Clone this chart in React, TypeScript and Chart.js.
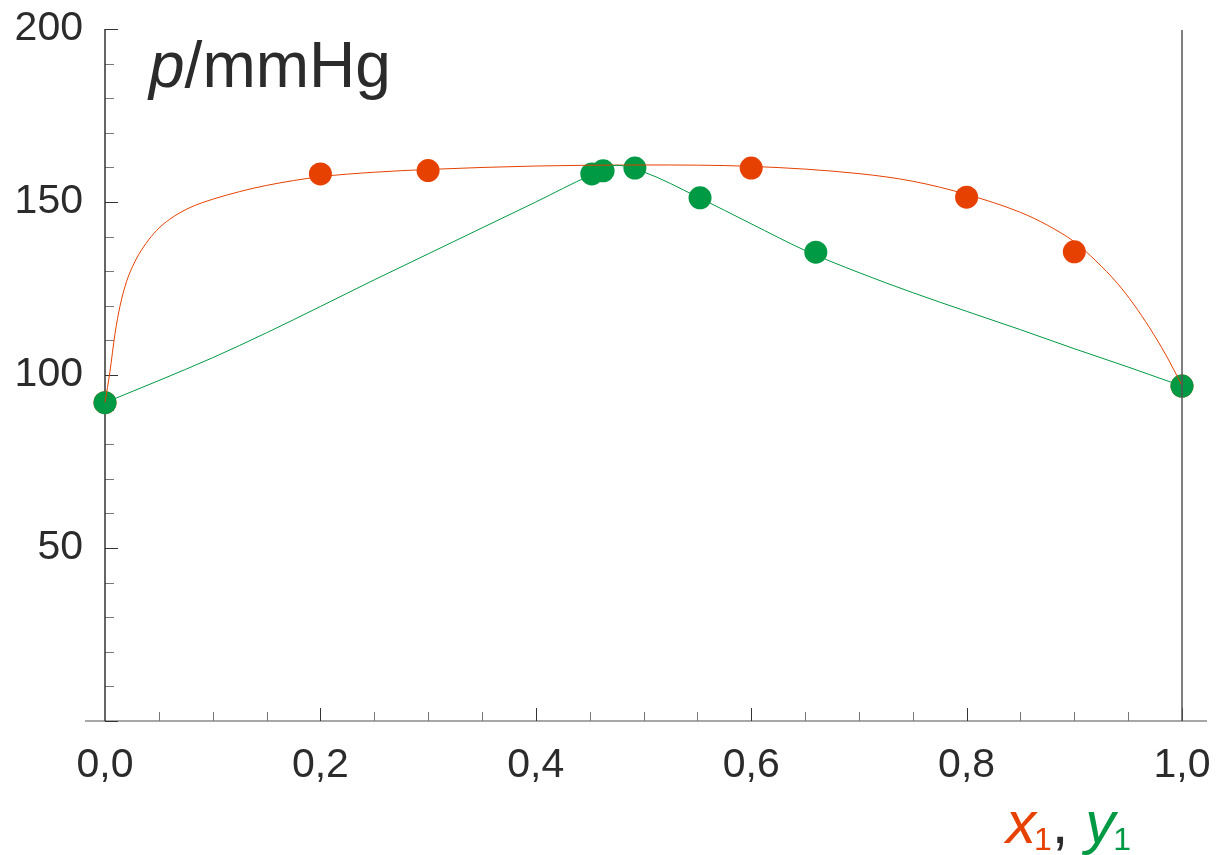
import React, { useEffect, useRef } from "react";
import { Chart, registerables } from "chart.js";

Chart.register(...registerables);

// Liquid composition curve (x1)
const liquidX = [0, 0.0046, 0.0093, 0.014, 0.02, 0.029, 0.038, 0.048, 0.06, 0.079, 0.1, 0.125, 0.15, 0.2, 0.25, 0.3, 0.4, 0.5, 0.6, 0.7, 0.75, 0.8, 0.85, 0.875, 0.9, 0.92, 0.94, 0.955, 0.97, 0.985, 1.0];
const liquidP = [92, 101, 112, 120, 127, 133.5, 138, 141.8, 145, 148.4, 150.8, 153, 154.8, 157.3, 158.6, 159.4, 160.4, 160.7, 160.3, 158.2, 156, 152.2, 147, 143.3, 138.5, 133, 126.5, 120.5, 113.6, 105.8, 97];

// Vapour composition curve (y1)
const vaporX = [0, 0.05, 0.1, 0.15, 0.2, 0.25, 0.3, 0.35, 0.4, 0.45, 0.475, 0.5, 0.55, 0.6, 0.65, 0.7, 0.75, 0.8, 0.85, 0.9, 0.95, 1.0];
const vaporP = [92, 98.4, 105, 112.2, 119.8, 127.5, 135, 142.5, 150, 157.6, 160.6, 158.7, 151.5, 143.7, 136, 129.6, 123.8, 118.4, 113.1, 107.6, 102.3, 96.8];

// Measured points
const liqPtsX = [0, 0.2, 0.3, 0.6, 0.8, 0.9, 1.0];
const liqPtsP = [92, 158.1, 159.1, 159.8, 151.4, 135.6, 96.8];
const vapPtsX = [0, 0.452, 0.4625, 0.492, 0.5525, 0.66, 1.0];
const vapPtsP = [92, 158.1, 159, 159.8, 151.2, 135.5, 96.8];

const xTicks = [0, 0.2, 0.4, 0.6, 0.8, 1.0];
const yTicks = [50, 100, 150, 200];

const RED = "#E64100";
const GREEN = "#009944";
const TEXT = "#2b2b2b";
const FONT = "'Liberation Sans', Arial, sans-serif";

const toPts = (xs: number[], ys: number[]) => xs.map((x, i) => ({ x, y: ys[i] }));

const zeroPad = (s: any) => {
  s.paddingTop = 0;
  s.paddingBottom = 0;
  s.paddingLeft = 0;
  s.paddingRight = 0;
};

const axesPlugin = {
  id: "customAxes",
  beforeDatasetsDraw(chart: any) {
    const { ctx, chartArea, scales } = chart;
    const xs = scales.x;
    const ys = scales.y;
    const x0 = xs.getPixelForValue(0);
    const y0 = ys.getPixelForValue(0);
    ctx.save();
    // x axis line
    ctx.strokeStyle = "#8a8a8a";
    ctx.lineWidth = 1.5;
    ctx.beginPath();
    ctx.moveTo(x0 - 20, y0);
    ctx.lineTo(chartArea.right + 25, y0);
    ctx.stroke();
    // x ticks
    for (let i = 1; i <= 20; i++) {
      const v = i * 0.05;
      const px = Math.round(xs.getPixelForValue(v)) + 0.5;
      const major = i % 4 === 0;
      ctx.strokeStyle = major ? "#333" : "#777";
      ctx.lineWidth = 1;
      ctx.beginPath();
      ctx.moveTo(px, y0);
      ctx.lineTo(px, y0 - (major ? 13 : 9));
      ctx.stroke();
    }
    // y ticks
    for (let i = 0; i <= 20; i++) {
      const v = i * 10;
      const py = Math.round(ys.getPixelForValue(v)) + 0.5;
      const major = i % 5 === 0;
      ctx.strokeStyle = major ? "#333" : "#777";
      ctx.lineWidth = 1;
      ctx.beginPath();
      ctx.moveTo(x0, py);
      ctx.lineTo(x0 + (major ? 13 : 9), py);
      ctx.stroke();
    }
    // y axis line
    ctx.strokeStyle = "#333";
    ctx.lineWidth = 1.5;
    ctx.beginPath();
    ctx.moveTo(x0, y0);
    ctx.lineTo(x0, ys.getPixelForValue(200));
    ctx.stroke();
    ctx.restore();
  },
  afterDatasetsDraw(chart: any) {
    const { ctx, scales } = chart;
    const xs = scales.x;
    const ys = scales.y;
    const x1 = xs.getPixelForValue(1);
    ctx.save();
    ctx.strokeStyle = "#555";
    ctx.lineWidth = 1.5;
    ctx.beginPath();
    ctx.moveTo(x1, ys.getPixelForValue(200) + 1);
    ctx.lineTo(x1, ys.getPixelForValue(0));
    ctx.stroke();
    ctx.restore();
  },
  afterDraw(chart: any) {
    const { ctx } = chart;
    ctx.save();
    ctx.textBaseline = "alphabetic";
    // title p/mmHg
    ctx.fillStyle = TEXT;
    ctx.font = `italic 64px ${FONT}`;
    let x = 149;
    const by = 87;
    ctx.fillText("p", x, by);
    x += ctx.measureText("p").width;
    ctx.font = `64px ${FONT}`;
    ctx.fillText("/mmHg", x, by);

    // x1, y1
    const by2 = 843;
    let lx = 1006;
    ctx.font = `italic 60px ${FONT}`;
    ctx.fillStyle = RED;
    ctx.fillText("x", lx, by2);
    lx += ctx.measureText("x").width;
    ctx.font = `32px ${FONT}`;
    ctx.fillText("1", lx - 2, by2 + 7);
    lx += ctx.measureText("1").width - 2;
    ctx.fillStyle = TEXT;
    ctx.font = `60px ${FONT}`;
    ctx.fillText(", ", lx, by2);
    lx += ctx.measureText(", ").width;
    ctx.fillStyle = GREEN;
    ctx.font = `italic 60px ${FONT}`;
    ctx.fillText("y", lx, by2);
    lx += ctx.measureText("y").width;
    ctx.font = `32px ${FONT}`;
    ctx.fillText("1", lx - 2, by2 + 7);
    ctx.restore();
  },
};

export default function App() {
  const ref = useRef<HTMLCanvasElement | null>(null);
  useEffect(() => {
    if (!ref.current) return;
    const chart = new Chart(ref.current, {
      type: "scatter",
      data: {
        datasets: [
          {
            label: "x1 points",
            data: toPts(liqPtsX, liqPtsP),
            showLine: false,
            pointRadius: 11.5,
            pointBackgroundColor: RED,
            pointBorderWidth: 0,
            clip: false,
            order: 4,
          },
          {
            label: "y1 points",
            data: toPts(vapPtsX, vapPtsP),
            showLine: false,
            pointRadius: 11.5,
            pointBackgroundColor: GREEN,
            pointBorderWidth: 0,
            clip: false,
            order: 3,
          },
          {
            label: "x1",
            data: toPts(liquidX, liquidP),
            showLine: true,
            pointRadius: 0,
            borderColor: RED,
            borderWidth: 1,
            cubicInterpolationMode: "monotone",
            clip: false,
            order: 2,
          },
          {
            label: "y1",
            data: toPts(vaporX, vaporP),
            showLine: true,
            pointRadius: 0,
            borderColor: GREEN,
            borderWidth: 1,
            cubicInterpolationMode: "monotone",
            clip: false,
            order: 1,
          },
        ],
      },
      options: {
        animation: false,
        responsive: false,
        layout: { padding: { left: 0, right: 40, top: 29, bottom: 0 } },
        plugins: { legend: { display: false }, tooltip: { enabled: false } },
        scales: {
          x: {
            type: "linear",
            min: 0,
            max: 1,
            position: "bottom",
            grid: { display: false, drawTicks: false },
            border: { display: false },
            afterBuildTicks: (s: any) => {
              s.ticks = xTicks.map((v) => ({ value: v }));
            },
            afterFit: (s: any) => {
              s.height = 134;
              zeroPad(s);
            },
            ticks: {
              autoSkip: false,
              maxRotation: 0,
              padding: 20,
              color: TEXT,
              font: { size: 41, family: FONT },
              callback: (v: any) => Number(v).toFixed(1).replace(".", ","),
            },
          },
          y: {
            type: "linear",
            min: 0,
            max: 200,
            position: "left",
            grid: { display: false, drawTicks: false },
            border: { display: false },
            afterBuildTicks: (s: any) => {
              s.ticks = yTicks.map((v) => ({ value: v }));
            },
            afterFit: (s: any) => {
              s.width = 105;
              zeroPad(s);
            },
            ticks: {
              autoSkip: false,
              padding: 22,
              color: TEXT,
              font: { size: 41, family: FONT },
              callback: (v: any) => String(v),
            },
          },
        },
      },
      plugins: [axesPlugin],
    });
    return () => chart.destroy();
  }, []);
  return (
    <div style={{ position: "absolute", left: 0, top: 0, width: 1222, height: 855, background: "#fff" }}>
      <canvas ref={ref} width={1222} height={855} />
    </div>
  );
}
